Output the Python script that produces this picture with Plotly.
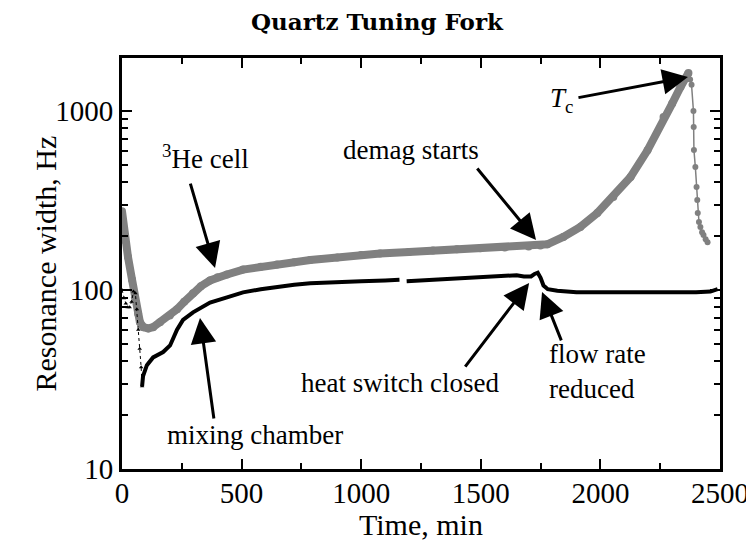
import plotly.graph_objects as go
import numpy as np

# ---- data ----
he3_t = [0, 4, 12, 25, 42, 54, 67, 75, 90, 110, 130, 159, 200, 230, 260, 297, 330, 368, 400, 439,
         506, 580, 648, 720, 787, 900, 1000, 1079, 1200, 1300, 1400, 1498, 1600, 1700, 1749, 1778,
         1845, 1916, 1987, 2054, 2126, 2197, 2264, 2300, 2335, 2368]
he3_w = [275, 240, 190, 153, 114, 91, 74, 66, 62, 61, 62, 66, 72, 78, 86, 96, 105, 113, 118, 122,
         130, 135, 139, 143, 147, 152, 157, 160, 163, 166, 169, 171, 173, 175, 177, 180,
         198, 225, 269, 331, 428, 603, 925, 1100, 1362, 1630]

drop_t = [2368, 2375, 2381, 2389, 2390, 2391, 2397, 2402, 2405, 2407, 2412, 2418, 2425, 2431, 2440, 2448]
drop_w = [1630, 1500, 1400, 1000, 815, 605, 486, 376, 318, 269, 240, 225, 210, 203, 192, 185]

mc_init_t = [0, 8, 16, 24, 32, 40, 48, 56, 62, 68, 74, 80, 84]
mc_init_w = [100, 90, 84, 80, 80, 86, 98, 96, 78, 60, 47, 37, 29]

mc_t = [84, 88, 104, 130, 172, 201, 230, 255, 297, 368, 439, 506, 580, 648, 720, 787, 900, 1000,
        1100, 1160, None, 1190, 1250, 1300, 1400, 1500, 1600, 1650, 1680, 1710, 1725, 1738, 1750,
        1762, 1780, 1820, 1900, 2000, 2100, 2200, 2300, 2400, 2460, 2490]
mc_w = [29, 33, 38, 42, 45, 49, 60, 68, 75, 85, 91, 97, 101, 104, 107, 109, 111, 112,
        113, 114, None, 112, 113, 114, 116, 118, 120, 121, 119, 119, 123, 125, 117,
        106, 101, 99, 97, 97, 97, 96, 97, 97, 98, 101]

x_ticks = [0, 500, 1000, 1500, 2000, 2500]
x_ticktext = ["0", "500", "1000", "1500", "2000", "2500"]
y_ticks = [10, 100, 1000]
y_ticktext = ["10", "100", "1000"]

# annotations: (text, text_t, text_w, tail_t, tail_w, tip_t, tip_w)
notes = [
    ("<sup>3</sup>He cell", 347, 10**2.743, 284, 10**2.603, 389, 10**2.123),
    ("demag starts", 1208, 10**2.782, 1480, 10**2.687, 1731, 10**2.279),
    ("<i>T</i><sub>c</sub>", 1839, 10**3.061, 1902, 10**3.073, 2366, 10**3.19),
    ("mixing chamber", 556, 10**1.19, 385, 10**1.274, 326, 10**1.844),
    ("heat switch closed", 1162, 10**1.48, 1430, 10**1.564, 1702, 10**2.039),
    ("flow rate<br>reduced", 1986, 10**1.542, 1839, 10**1.71, 1756, 10**1.989),
]

SERIF = "Liberation Serif, Times New Roman, serif"
GREY = "#808080"

fig = go.Figure()
fig.add_trace(go.Scatter(x=he3_t, y=he3_w, mode="lines+markers",
                         line=dict(color=GREY, width=8), marker=dict(color=GREY, size=8),
                         showlegend=False))
fig.add_trace(go.Scatter(x=drop_t, y=drop_w, mode="lines+markers",
                         line=dict(color=GREY, width=1.5), marker=dict(color=GREY, size=6),
                         showlegend=False))
fig.add_trace(go.Scatter(x=mc_init_t, y=mc_init_w, mode="lines+markers",
                         line=dict(color="black", width=1, dash="dot"),
                         marker=dict(color="black", size=4, symbol="triangle-up"),
                         showlegend=False))
fig.add_trace(go.Scatter(x=mc_t, y=mc_w, mode="lines", connectgaps=False,
                         line=dict(color="black", width=4), showlegend=False))

annotations = []
for text, tx, tw, at, aw, pt, pw in notes:
    annotations.append(dict(x=tx, y=np.log10(tw), xref="x", yref="y", text=text,
                            showarrow=False, font=dict(family=SERIF, size=27, color="black"),
                            align="left"))
    annotations.append(dict(x=pt, y=np.log10(pw), xref="x", yref="y",
                            ax=at, ay=np.log10(aw), axref="x", ayref="y", text="",
                            showarrow=True, arrowhead=2, arrowsize=1.7, arrowwidth=3,
                            arrowcolor="black"))

# axis titles (placed as paper annotations for tight placement)
annotations.append(dict(text="Time, min", xref="paper", yref="paper", x=0.5, y=0,
                        yshift=-55, xanchor="center", yanchor="middle", showarrow=False,
                        font=dict(family=SERIF, size=30, color="black")))
annotations.append(dict(text="Resonance width, Hz", xref="paper", yref="paper", x=0, y=0.5,
                        xshift=-77, xanchor="center", yanchor="middle", showarrow=False,
                        textangle=-90, font=dict(family=SERIF, size=30, color="black")))

# page body adds an 8px margin, so the figure is 8px smaller and shifted
fig.update_layout(
    width=746, height=536,
    margin=dict(l=114, r=34, t=50, b=75),
    paper_bgcolor="white", plot_bgcolor="white",
    title=dict(text="<b>Quartz Tuning Fork</b>", x=(377 - 8) / 746, xref="container",
               y=1 - 14 / 536, yref="container", yanchor="middle", xanchor="center",
               font=dict(family="DejaVu Serif", size=23, color="black")),
    annotations=annotations,
    font=dict(family=SERIF, color="black"),
)
fig.update_xaxes(range=[0, 2500], tickvals=x_ticks, ticktext=x_ticktext,
                 ticks="inside", ticklen=10, tickwidth=2, tickcolor="black",
                 minor=dict(dtick=250, ticks="inside", ticklen=6, tickwidth=2, tickcolor="black"),
                 showline=True, linewidth=3, linecolor="black", mirror="allticks",
                 showgrid=False, zeroline=False, automargin=False,
                 tickfont=dict(family=SERIF, size=29), ticklabelstandoff=-4)
fig.update_yaxes(type="log", range=[1, 3.296], tickvals=y_ticks, ticktext=y_ticktext,
                 ticks="inside", ticklen=10, tickwidth=2, tickcolor="black",
                 minor=dict(dtick="D1", ticks="inside", ticklen=6, tickwidth=2, tickcolor="black"),
                 showline=True, linewidth=3, linecolor="black", mirror="allticks",
                 showgrid=False, zeroline=False, automargin=False,
                 tickfont=dict(family=SERIF, size=29), ticklabelstandoff=0)

fig.write_html("out.html")
